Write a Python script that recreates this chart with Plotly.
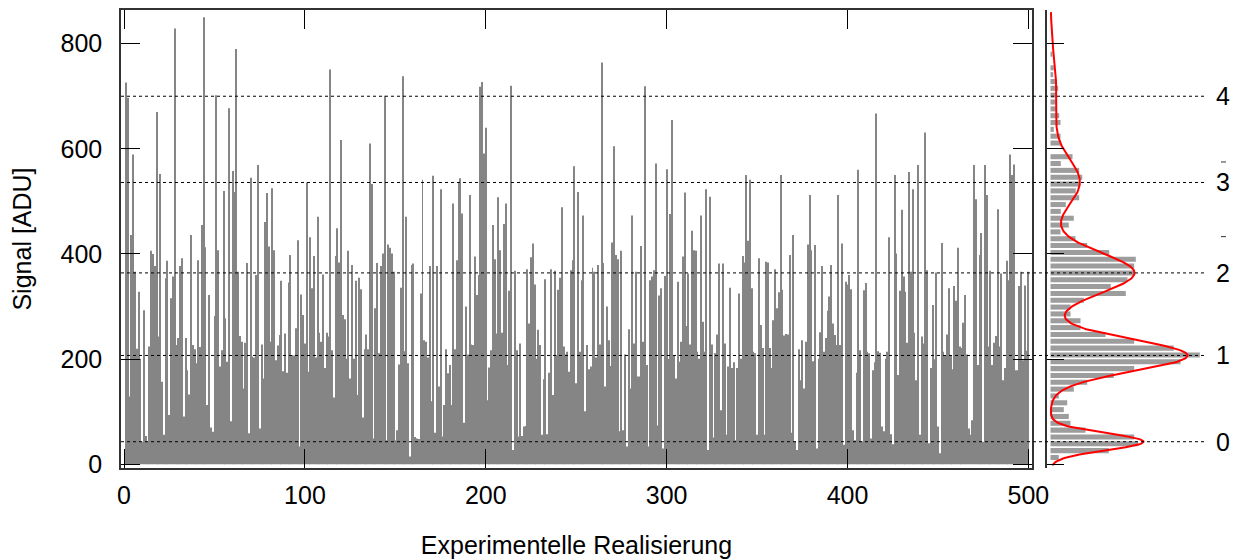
import numpy as np
import plotly.graph_objects as go

# Signal per realization (ADU), in four blocks of realizations
signal_001_126 = [
    726, 697, 129, 436, 589, 366, 220, 328, 201, 43,
    293, 54, 43, 224, 406, 400, 377, 670, 243, 552,
    157, 56, 354, 387, 94, 316, 357, 829, 227, 240,
    377, 392, 91, 240, 179, 133, 436, 227, 219, 192,
    388, 223, 455, 850, 413, 113, 322, 70, 62, 282,
    702, 407, 186, 217, 520, 278, 195, 677, 82, 558,
    518, 790, 366, 244, 233, 144, 231, 383, 59, 545,
    205, 203, 360, 569, 68, 228, 163, 461, 516, 414,
    233, 525, 407, 198, 226, 246, 349, 177, 249, 174,
    346, 398, 208, 207, 259, 426, 34, 323, 284, 230,
    536, 176, 432, 335, 396, 203, 471, 250, 233, 361,
    183, 250, 243, 751, 217, 127, 396, 449, 384, 617,
    284, 276, 201, 406, 163, 379,
]
signal_127_249 = [
    201, 349, 132, 355, 333, 89, 219, 247, 219, 610,
    533, 49, 297, 383, 211, 377, 401, 701, 46, 418,
    412, 401, 366, 46, 65, 190, 336, 738, 215, 471,
    192, 15, 379, 382, 52, 49, 48, 325, 541, 236,
    233, 203, 377, 120, 549, 60, 377, 148, 523, 53,
    113, 219, 173, 189, 113, 496, 219, 388, 537, 544,
    477, 79, 300, 209, 512, 228, 227, 395, 322, 360,
    718, 727, 591, 640, 122, 184, 217, 455, 390, 249,
    508, 407, 250, 457, 496, 189, 330, 720, 27, 368,
    217, 53, 230, 54, 72, 73, 371, 268, 394, 420,
    342, 201, 256, 227, 56, 162, 352, 57, 174, 371,
    132, 368, 208, 332, 355, 489, 224, 209, 214, 176,
    369, 388, 567,
]
signal_250_375 = [
    154, 518, 214, 350, 473, 101, 227, 181, 186, 374,
    366, 203, 379, 228, 764, 383, 148, 300, 236, 187,
    422, 605, 398, 390, 63, 406, 65, 209, 34, 257,
    144, 473, 230, 366, 167, 167, 415, 233, 719, 189,
    34, 350, 357, 369, 572, 74, 321, 335, 30, 358,
    561, 201, 476, 655, 208, 163, 347, 195, 233, 395,
    517, 263, 363, 228, 444, 407, 406, 214, 201, 473,
    271, 214, 523, 27, 509, 228, 51, 211, 247, 382,
    103, 382, 230, 56, 186, 336, 183, 194, 46, 183,
    325, 201, 396, 384, 550, 425, 541, 335, 214, 211,
    56, 392, 265, 221, 56, 385, 384, 221, 183, 274,
    371, 297, 327, 550, 332, 245, 248, 247, 398, 60,
    436, 44, 27, 219, 160, 236,
]
signal_376_500 = [
    144, 233, 418, 512, 407, 196, 417, 30, 201, 251,
    377, 214, 240, 292, 319, 379, 268, 246, 227, 512,
    227, 420, 37, 347, 342, 360, 333, 65, 46, 174,
    560, 217, 44, 331, 345, 214, 211, 49, 179, 194,
    667, 215, 212, 72, 63, 201, 214, 432, 57, 38,
    550, 401, 170, 330, 484, 357, 328, 231, 556, 366,
    523, 250, 160, 569, 56, 243, 230, 631, 369, 40,
    183, 303, 200, 365, 72, 21, 421, 214, 208, 247,
    335, 208, 181, 339, 311, 412, 224, 221, 269, 322,
    209, 68, 56, 84, 569, 504, 189, 398, 440, 43,
    569, 512, 224, 368, 189, 231, 244, 485, 224, 363,
    160, 183, 387, 350, 589, 550, 570, 179, 179, 339,
    366, 198, 340, 216, 366,
]

signal = signal_001_126 + signal_127_249 + signal_250_375 + signal_376_500
realization = list(range(1, len(signal) + 1))

# Histogram of the signal (bin centres in ADU, relative frequency)
hist_bin_width = 13
hist_centers = [13 * k for k in range(1, 61)]
hist_freq = [
    8.3, 58.3, 87.7, 83.7, 35, 20, 18.3, 13.3, 16.7, 8.3,
    23.3, 36.7, 63.3, 83.7, 130, 149.3, 123.3, 83.7, 55, 30,
    30, 20, 20, 33.3, 75.3, 60.3, 77, 83.7, 83.7, 85.3,
    58.7, 36.7, 25, 10, 18.3, 23.3, 10.3, 15.3, 28.7, 25.3,
    29.3, 31.7, 28.7, 10.3, 22, 0, 10, 10, 3.3, 10,
    8.7, 5.3, 5.3, 5.3, 7.7, 6, 2.7, 3.3, 0, 2,
]

# Multi-Gaussian fit: one peak per photon number n = 0..4
photon_numbers = [0, 1, 2, 3, 4]
peak_centers = [43, 207, 364, 536, 700]
peak_amplitudes = [93, 137, 84, 29, 6]
peak_sigmas = [16, 30, 38, 45, 70]

# Short marks on the photon-number scale
scale_marks = [433, 575]

W, H = 1238, 559
FONT = "Liberation Sans, Arial, Helvetica, sans-serif"
FS = 25


def px(xp):
    return xp / W


def py(yp):
    return 1 - yp / H


y_range = [-7, 864]
left, right, top, bottom = 121, 1032, 10, 468
hist_left, hist_right = 1047, 1212

fit_y = np.linspace(-2, 860, 600)
fit_x = np.zeros_like(fit_y)
for c, a, s in zip(peak_centers, peak_amplitudes, peak_sigmas):
    fit_x += a * np.exp(-((fit_y - c) ** 2) / (2 * s ** 2))

fig = go.Figure()
fig.add_trace(go.Bar(
    x=realization, y=signal, width=0.55,
    marker=dict(color="#858585", line=dict(width=0)),
    xaxis="x", yaxis="y", showlegend=False,
))
fig.add_trace(go.Bar(
    y=hist_centers, x=hist_freq, orientation="h", width=hist_bin_width * 0.74,
    marker=dict(color="#9d9d9d", line=dict(width=0)),
    xaxis="x2", yaxis="y2", showlegend=False,
))
fig.add_trace(go.Scatter(
    x=fit_x, y=fit_y, mode="lines",
    line=dict(color="#ff0000", width=2),
    xaxis="x2", yaxis="y2", showlegend=False,
))

shapes = []
for c in peak_centers:
    shapes.append(dict(
        type="line", xref="paper", yref="y",
        x0=px(left), x1=px(1205), y0=c, y1=c,
        line=dict(color="black", width=1, dash="3px,3px"), layer="above",
    ))
for m in scale_marks:
    shapes.append(dict(
        type="line", xref="paper", yref="y",
        x0=px(1221), x1=px(1226), y0=m, y1=m,
        line=dict(color="#333", width=1), layer="above",
    ))

annotations = [
    dict(x=px(1223), y=c, xref="paper", yref="y", text=str(n),
         showarrow=False, xanchor="center", yanchor="middle",
         font=dict(family=FONT, size=FS, color="black"))
    for n, c in zip(photon_numbers, peak_centers)
]

axis_common = dict(
    showgrid=False, zeroline=False, showline=True,
    linecolor="#333333", linewidth=1.5,
    ticks="inside", tickcolor="black", tickwidth=1,
    tickfont=dict(family=FONT, size=FS, color="black"),
    automargin=False,
)

fig.update_layout(
    width=W, height=H,
    margin=dict(l=0, r=0, t=0, b=0, pad=0),
    paper_bgcolor="white", plot_bgcolor="white",
    barmode="overlay",
    font=dict(family=FONT, size=FS, color="black"),
    xaxis=dict(
        axis_common, domain=[px(left), px(right)], range=[-1.7, 502],
        tickvals=[0, 100, 200, 300, 400, 500], ticklen=19, mirror="allticks",
        ticklabelstandoff=4,
        title=dict(text="Experimentelle Realisierung", standoff=30,
                   font=dict(family=FONT, size=FS, color="black")),
        anchor="y",
    ),
    yaxis=dict(
        axis_common, domain=[py(bottom), py(top)], range=y_range,
        tickvals=[0, 200, 400, 600, 800], ticklen=19, mirror="allticks",
        ticklabelstandoff=12,
        title=dict(text="Signal [ADU]", standoff=22,
                   font=dict(family=FONT, size=FS, color="black")),
        anchor="x",
    ),
    xaxis2=dict(
        domain=[px(hist_left), px(hist_right)], range=[-3.5, 161.5],
        showgrid=False, zeroline=False, showline=False,
        showticklabels=False, ticks="", anchor="y2", automargin=False,
    ),
    yaxis2=dict(
        axis_common, domain=[py(bottom), py(top)], range=y_range,
        tickvals=[0, 200, 400, 600, 800], ticklen=17, mirror=False,
        showticklabels=False, anchor="x2",
    ),
    shapes=shapes,
    annotations=annotations,
)

fig.write_html("out.html")
